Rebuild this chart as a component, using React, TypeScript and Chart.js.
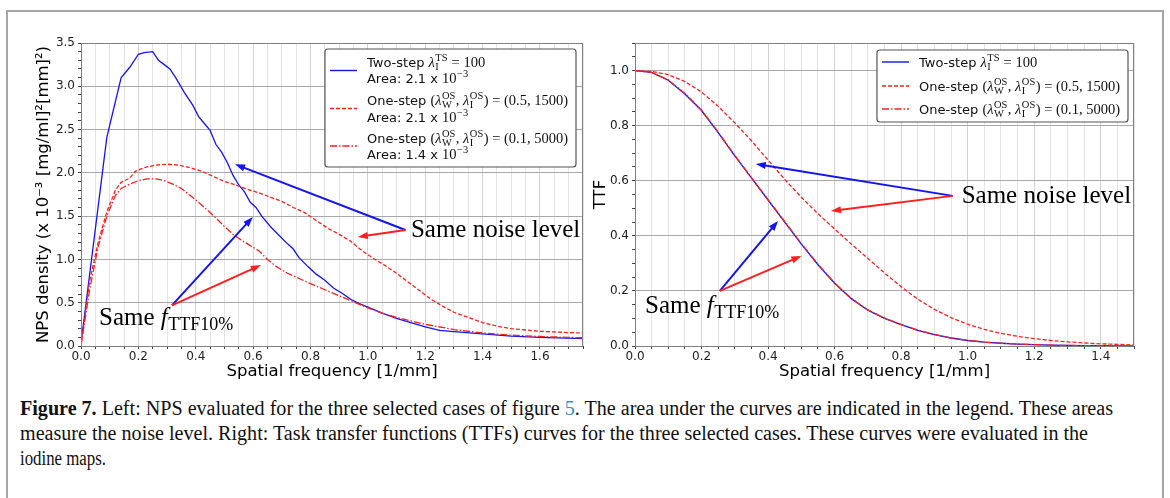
import React, { useEffect, useLayoutEffect, useRef } from 'react';
import { Chart, registerables } from 'chart.js';

Chart.register(...registerables);

// ---------------- DATA ----------------
// Left panel: NPS density (x 1e-3 [mg/ml]^2 [mm]^2) vs spatial frequency [1/mm]
const NPS_TWO_STEP_F = [0, 0.09, 0.14, 0.17, 0.2, 0.22, 0.25, 0.27, 0.29, 0.31, 0.33, 0.36, 0.39, 0.41, 0.43, 0.45, 0.47, 0.49, 0.51, 0.53, 0.55, 0.57, 0.59, 0.61, 0.63, 0.66, 0.69, 0.72, 0.74, 0.76, 0.79, 0.82, 0.85, 0.88, 0.91, 0.94, 0.97, 1.0, 1.05, 1.1, 1.15, 1.2, 1.25, 1.3, 1.4, 1.5, 1.6, 1.75];
const NPS_TWO_STEP = [0.03, 2.41, 3.1, 3.22, 3.37, 3.39, 3.4, 3.3, 3.25, 3.2, 3.1, 2.93, 2.78, 2.65, 2.57, 2.49, 2.33, 2.24, 2.12, 1.97, 1.86, 1.78, 1.66, 1.6, 1.5, 1.38, 1.28, 1.18, 1.12, 1.02, 0.92, 0.83, 0.76, 0.67, 0.61, 0.54, 0.49, 0.45, 0.38, 0.32, 0.27, 0.22, 0.18, 0.165, 0.14, 0.115, 0.1, 0.085];

const NPS_ONE_STEP_A_F = [0, 0.03, 0.06, 0.09, 0.12, 0.14, 0.17, 0.19, 0.22, 0.26, 0.3, 0.34, 0.38, 0.42, 0.46, 0.5, 0.54, 0.58, 0.62, 0.66, 0.7, 0.74, 0.78, 0.82, 0.86, 0.9, 0.94, 0.98, 1.02, 1.06, 1.1, 1.14, 1.18, 1.22, 1.26, 1.3, 1.35, 1.4, 1.45, 1.5, 1.55, 1.6, 1.7, 1.75];
const NPS_ONE_STEP_A = [0, 0.75, 1.2, 1.55, 1.8, 1.89, 1.94, 2.02, 2.06, 2.09, 2.1, 2.09, 2.06, 2.02, 1.96, 1.9, 1.86, 1.81, 1.77, 1.72, 1.67, 1.6, 1.54, 1.45, 1.36, 1.29, 1.21, 1.1, 1.01, 0.93, 0.84, 0.74, 0.64, 0.54, 0.46, 0.39, 0.33, 0.27, 0.23, 0.2, 0.185, 0.17, 0.155, 0.15];

const NPS_ONE_STEP_B_F = [0, 0.03, 0.06, 0.09, 0.12, 0.14, 0.17, 0.2, 0.23, 0.26, 0.29, 0.32, 0.35, 0.38, 0.41, 0.44, 0.47, 0.5, 0.53, 0.56, 0.59, 0.62, 0.65, 0.68, 0.72, 0.76, 0.8, 0.85, 0.9, 0.95, 1.0, 1.05, 1.1, 1.15, 1.2, 1.3, 1.4, 1.5, 1.6, 1.75];
const NPS_ONE_STEP_B = [0, 0.65, 1.15, 1.5, 1.74, 1.82, 1.87, 1.91, 1.93, 1.93, 1.91, 1.87, 1.82, 1.74, 1.66, 1.57, 1.48, 1.38, 1.29, 1.22, 1.16, 1.1, 1.0, 0.92, 0.84, 0.78, 0.72, 0.65, 0.58, 0.51, 0.44, 0.38, 0.33, 0.29, 0.25, 0.19, 0.15, 0.125, 0.11, 0.095];

// Right panel: TTF vs spatial frequency [1/mm]
const TTF_F = [0, 0.05, 0.1, 0.15, 0.2, 0.25, 0.3, 0.35, 0.4, 0.45, 0.5, 0.55, 0.6, 0.65, 0.7, 0.75, 0.8, 0.85, 0.9, 0.95, 1.0, 1.05, 1.1, 1.15, 1.2, 1.25, 1.3, 1.35, 1.4, 1.45, 1.5];
const TTF_TWO_STEP = [1.0, 0.993, 0.965, 0.915, 0.855, 0.775, 0.69, 0.61, 0.53, 0.45, 0.37, 0.295, 0.228, 0.172, 0.13, 0.1, 0.078, 0.057, 0.041, 0.029, 0.02, 0.014, 0.01, 0.007, 0.005, 0.003, 0.002, 0.001, 0.001, 0, 0];
const TTF_ONE_STEP_A = [1.0, 0.997, 0.985, 0.96, 0.922, 0.87, 0.81, 0.745, 0.675, 0.605, 0.54, 0.48, 0.425, 0.37, 0.318, 0.265, 0.215, 0.17, 0.133, 0.103, 0.079, 0.06, 0.046, 0.035, 0.027, 0.02, 0.015, 0.011, 0.008, 0.006, 0.004];
const TTF_ONE_STEP_B = [1.0, 0.993, 0.966, 0.917, 0.856, 0.777, 0.692, 0.611, 0.531, 0.452, 0.372, 0.297, 0.229, 0.173, 0.131, 0.101, 0.078, 0.058, 0.042, 0.029, 0.021, 0.014, 0.01, 0.007, 0.005, 0.003, 0.002, 0.001, 0.001, 0, 0];

// Tick labels
const NPS_X_TICKS = [0, 0.2, 0.4, 0.6, 0.8, 1.0, 1.2, 1.4, 1.6];
const NPS_Y_TICKS = [0, 0.5, 1.0, 1.5, 2.0, 2.5, 3.0, 3.5];
const TTF_X_TICKS = [0, 0.2, 0.4, 0.6, 0.8, 1.0, 1.2, 1.4];
const TTF_Y_TICKS = [0, 0.2, 0.4, 0.6, 0.8, 1.0];

// Texts
type Seg = { t?: string; f?: 'sans' | 'rm' | 'it'; sup?: string; sub?: string };
const LBL_TWO_STEP: Seg[] = [{ t: 'Two-step ', f: 'sans' }, { t: 'λ', f: 'it' }, { sup: 'TS', sub: 'I' }, { t: ' = 100', f: 'rm' }];
const LBL_ONE_STEP_A: Seg[] = [{ t: 'One-step ', f: 'sans' }, { t: '(', f: 'rm' }, { t: 'λ', f: 'it' }, { sup: 'OS', sub: 'W' }, { t: ', ', f: 'rm' }, { t: 'λ', f: 'it' }, { sup: 'OS', sub: 'I' }, { t: ') = (0.5, 1500)', f: 'rm' }];
const LBL_ONE_STEP_B: Seg[] = [{ t: 'One-step ', f: 'sans' }, { t: '(', f: 'rm' }, { t: 'λ', f: 'it' }, { sup: 'OS', sub: 'W' }, { t: ', ', f: 'rm' }, { t: 'λ', f: 'it' }, { sup: 'OS', sub: 'I' }, { t: ') = (0.1, 5000)', f: 'rm' }];
const AREA_A: Seg[] = [{ t: 'Area: 2.1 x ', f: 'sans' }, { t: '10', f: 'rm' }, { sup: '−3' }];
const AREA_B: Seg[] = [{ t: 'Area: 2.1 x ', f: 'sans' }, { t: '10', f: 'rm' }, { sup: '−3' }];
const AREA_C: Seg[] = [{ t: 'Area: 1.4 x ', f: 'sans' }, { t: '10', f: 'rm' }, { sup: '−3' }];
const SAME_NOISE: Seg[] = [{ t: 'Same noise level', f: 'rm' }];
const SAME_F: Seg[] = [{ t: 'Same ', f: 'rm' }, { t: 'f', f: 'it' }, { sub: 'TTF10%' }];

const CAPTION_LINES = [
  [{ t: 'Figure 7.', b: true }, { t: ' Left: NPS evaluated for the three selected cases of figure ' }, { t: '5', link: true }, { t: '. The area under the curves are indicated in the legend. These areas' }],
  [{ t: 'measure the noise level. Right: Task transfer functions (TTFs) curves for the three selected cases. These curves were evaluated in the' }],
  [{ t: 'iodine maps.' }],
];
const CAPTION_WIDTHS = [1093, 1068, 86];

// ---------------- STYLE ----------------
const BLUE = '#1414f2';
const RED = '#ff1f1f';
const DASH = [4, 2];
const DASHDOT = [7, 2, 1.5, 2];

function zip(xs: number[], ys: number[]) {
  return xs.map((x, i) => ({ x, y: ys[i] }));
}
function near(v: number, list: number[]) {
  return list.some((t) => Math.abs(t - v) < 1e-6);
}

function segFont(f: string | undefined, size: number) {
  if (f === 'sans') return `${size}px "DejaVu Sans"`;
  if (f === 'it') return `italic ${size}px "Liberation Serif"`;
  return `${size}px "Liberation Serif"`;
}

function rich(ctx: CanvasRenderingContext2D, segs: Seg[], x: number, y: number, size: number, mathSize: number, draw: boolean) {
  let cx = x;
  for (const s of segs) {
    if (s.t !== undefined) {
      const sz = s.f === 'sans' ? size : mathSize;
      ctx.font = segFont(s.f, sz);
      if (draw) ctx.fillText(s.t, cx, y);
      cx += ctx.measureText(s.t).width;
    } else {
      const sz = mathSize * 0.72;
      ctx.font = segFont('rm', sz);
      let w = 0;
      if (s.sup) {
        if (draw) ctx.fillText(s.sup, cx + 0.5, y - mathSize * 0.42);
        w = Math.max(w, ctx.measureText(s.sup).width);
      }
      if (s.sub) {
        if (draw) ctx.fillText(s.sub, cx + 0.5, y + mathSize * 0.2);
        w = Math.max(w, ctx.measureText(s.sub).width);
      }
      cx += w + 1;
    }
  }
  return cx - x;
}

function arrow(ctx: CanvasRenderingContext2D, x1: number, y1: number, x2: number, y2: number, color: string) {
  const a = Math.atan2(y2 - y1, x2 - x1);
  const hl = 10;
  const hw = 3.6;
  const c = Math.cos(a);
  const s = Math.sin(a);
  ctx.save();
  ctx.strokeStyle = color;
  ctx.fillStyle = color;
  ctx.lineWidth = 2;
  ctx.setLineDash([]);
  ctx.beginPath();
  ctx.moveTo(x1, y1);
  ctx.lineTo(x2 - hl * 0.8 * c, y2 - hl * 0.8 * s);
  ctx.stroke();
  ctx.beginPath();
  ctx.moveTo(x2, y2);
  ctx.lineTo(x2 - hl * c + hw * s, y2 - hl * s - hw * c);
  ctx.lineTo(x2 - hl * c - hw * s, y2 - hl * s + hw * c);
  ctx.closePath();
  ctx.fill();
  ctx.restore();
}

type Note = { label: Seg[]; at: number[]; from: number[]; to: { p: number[]; c: string }[] };
type LegendEntry = { color: string; dash: number[]; lines: Seg[][]; centers: number[]; handle: number };
type LegendSpec = { right: number; top: number; height: number; entries: LegendEntry[] };

const NPS_NOTES: Note[] = [
  { label: SAME_NOISE, at: [1.15, 1.26], from: [1.131, 1.34], to: [{ p: [0.537, 2.1], c: BLUE }, { p: [0.965, 1.26], c: RED }] },
  { label: SAME_F, at: [0.063, 0.24], from: [0.317, 0.47], to: [{ p: [0.599, 1.49], c: BLUE }, { p: [0.627, 0.935], c: RED }] },
];
const TTF_NOTES: Note[] = [
  { label: SAME_NOISE, at: [0.982, 0.52], from: [0.955, 0.545], to: [{ p: [0.363, 0.661], c: BLUE }, { p: [0.589, 0.49], c: RED }] },
  { label: SAME_F, at: [0.03, 0.12], from: [0.255, 0.2], to: [{ p: [0.43, 0.454], c: BLUE }, { p: [0.5, 0.327], c: RED }] },
];

const NPS_LEGEND: LegendSpec = {
  right: 7, top: 6, height: 118,
  entries: [
    { color: BLUE, dash: [], lines: [LBL_TWO_STEP, AREA_A], centers: [13, 29.5], handle: 21.5 },
    { color: RED, dash: DASH, lines: [LBL_ONE_STEP_A, AREA_B], centers: [51, 68], handle: 59.5 },
    { color: RED, dash: DASHDOT, lines: [LBL_ONE_STEP_B, AREA_C], centers: [89, 105.5], handle: 97 },
  ],
};
const TTF_LEGEND: LegendSpec = {
  right: 6, top: 7, height: 72,
  entries: [
    { color: BLUE, dash: [], lines: [LBL_TWO_STEP], centers: [12], handle: 12 },
    { color: RED, dash: DASH, lines: [LBL_ONE_STEP_A], centers: [36], handle: 36 },
    { color: RED, dash: DASHDOT, lines: [LBL_ONE_STEP_B], centers: [59], handle: 59 },
  ],
};

function overlayPlugin(notes: Note[], legend: LegendSpec) {
  return {
    id: 'overlay',
    afterDatasetsDraw(chart: any) {
      const { ctx, chartArea: a } = chart;
      ctx.save();
      ctx.strokeStyle = '#808080';
      ctx.lineWidth = 1;
      ctx.setLineDash([]);
      ctx.strokeRect(a.left + 0.5, a.top + 0.5, a.right - a.left - 1, a.bottom - a.top);
      ctx.restore();
    },
    afterDraw(chart: any) {
      const { ctx, chartArea: a } = chart;
      const xs = chart.scales.x;
      const ys = chart.scales.y;
      ctx.save();
      ctx.textBaseline = 'alphabetic';
      ctx.textAlign = 'left';
      for (const n of notes) {
        const fx = xs.getPixelForValue(n.from[0]);
        const fy = ys.getPixelForValue(n.from[1]);
        for (const t of n.to) {
          arrow(ctx, fx, fy, xs.getPixelForValue(t.p[0]), ys.getPixelForValue(t.p[1]), t.c);
        }
        ctx.fillStyle = '#000';
        rich(ctx, n.label, xs.getPixelForValue(n.at[0]), ys.getPixelForValue(n.at[1]), 25, 25, true);
      }
      // legend
      const size = 13;
      const mathSize = 14.5;
      let maxW = 0;
      for (const e of legend.entries) for (const l of e.lines) maxW = Math.max(maxW, rich(ctx, l, 0, 0, size, mathSize, false));
      const w = 5 + 27 + 10 + maxW + 8;
      const bx = a.right - legend.right - w;
      const by = a.top + legend.top;
      ctx.beginPath();
      const r = 3;
      ctx.moveTo(bx + r, by);
      ctx.arcTo(bx + w, by, bx + w, by + legend.height, r);
      ctx.arcTo(bx + w, by + legend.height, bx, by + legend.height, r);
      ctx.arcTo(bx, by + legend.height, bx, by, r);
      ctx.arcTo(bx, by, bx + w, by, r);
      ctx.closePath();
      ctx.fillStyle = '#ffffff';
      ctx.fill();
      ctx.strokeStyle = '#555555';
      ctx.lineWidth = 1.2;
      ctx.stroke();
      for (const e of legend.entries) {
        ctx.save();
        ctx.strokeStyle = e.color;
        ctx.lineWidth = 1.4;
        ctx.setLineDash(e.dash);
        ctx.beginPath();
        ctx.moveTo(bx + 5, by + e.handle);
        ctx.lineTo(bx + 32, by + e.handle);
        ctx.stroke();
        ctx.restore();
        ctx.fillStyle = '#111';
        e.lines.forEach((l, i) => {
          rich(ctx, l, bx + 42, by + e.centers[i] + 4.7, size, mathSize, true);
        });
      }
      ctx.restore();
    },
  };
}

const TICK_FONT = { family: 'DejaVu Sans', size: 12 };
const TITLE_FONT = { family: 'DejaVu Sans', size: 16.5 };

function lineDs(label: string, data: { x: number; y: number }[], color: string, dash: number[], order: number) {
  return {
    label,
    data,
    borderColor: color,
    backgroundColor: color,
    borderWidth: 1.3,
    borderDash: dash,
    pointRadius: 0,
    tension: 0,
    fill: false,
    order,
  };
}

function makeScales(opts: {
  xMax: number; yMax: number; yStep: number; xLabels: number[]; yLabels: number[];
  yTitle: string; yTitlePad: number; yWidth: number; xHeight: number;
}) {
  return {
    x: {
      type: 'linear',
      min: 0,
      max: opts.xMax,
      afterFit: (s: any) => { s.height = opts.xHeight; },
      border: { display: false },
      grid: {
        color: (c: any) => (c.tick && near(c.tick.value, opts.xLabels) ? '#d2d2d2' : '#e4e4e4'),
        lineWidth: 1,
        tickLength: 3,
        tickColor: '#444',
      },
      ticks: {
        stepSize: 0.05,
        autoSkip: false,
        maxRotation: 0,
        padding: 1,
        color: '#222',
        font: TICK_FONT,
        callback: (v: number) => (near(v, opts.xLabels) ? v.toFixed(1) : ''),
      },
      title: {
        display: true,
        text: 'Spatial frequency [1/mm]',
        color: '#000',
        font: TITLE_FONT,
        padding: { top: 0, bottom: 8 },
      },
    },
    y: {
      type: 'linear',
      min: 0,
      max: opts.yMax,
      afterFit: (s: any) => { s.width = opts.yWidth; },
      border: { display: false },
      grid: {
        color: (c: any) => (c.tick && near(c.tick.value, opts.yLabels) ? '#a8a8a8' : 'rgba(0,0,0,0)'),
        lineWidth: 1,
        tickLength: 3,
        tickColor: '#444',
      },
      ticks: {
        stepSize: opts.yStep,
        autoSkip: false,
        padding: 3,
        color: '#222',
        font: TICK_FONT,
        callback: (v: number) => (near(v, opts.yLabels) ? v.toFixed(1) : ''),
      },
      title: {
        display: true,
        text: opts.yTitle,
        color: '#000',
        font: TITLE_FONT,
        padding: { top: opts.yTitlePad, bottom: 0 },
      },
    },
  };
}

function NpsChart() {
  const ref = useRef<HTMLCanvasElement>(null);
  useEffect(() => {
    if (!ref.current) return;
    const chart = new Chart(ref.current, {
      type: 'line',
      data: {
        datasets: [
          lineDs('Two-step', zip(NPS_TWO_STEP_F, NPS_TWO_STEP), BLUE, [], 3),
          lineDs('One-step (0.5, 1500)', zip(NPS_ONE_STEP_A_F, NPS_ONE_STEP_A), RED, DASH, 2),
          lineDs('One-step (0.1, 5000)', zip(NPS_ONE_STEP_B_F, NPS_ONE_STEP_B), RED, DASHDOT, 1),
        ],
      },
      options: {
        animation: false,
        responsive: false,
        devicePixelRatio: 1,
        layout: { padding: { top: 43, right: 7, left: 0, bottom: 0 } },
        plugins: { legend: { display: false }, tooltip: { enabled: false } },
        scales: makeScales({
          xMax: 1.75, yMax: 3.5, yStep: 0.1, xLabels: NPS_X_TICKS, yLabels: NPS_Y_TICKS,
          yTitle: 'NPS density (x 10⁻³ [mg/ml]²[mm]²)', yTitlePad: 34, yWidth: 81, xHeight: 44,
        }),
      } as any,
      plugins: [overlayPlugin(NPS_NOTES, NPS_LEGEND) as any],
    } as any);
    return () => chart.destroy();
  }, []);
  return <canvas ref={ref} width={590} height={390} style={{ position: 'absolute', left: 0, top: 0, width: 590, height: 390 }} />;
}

function TtfChart() {
  const ref = useRef<HTMLCanvasElement>(null);
  useEffect(() => {
    if (!ref.current) return;
    const chart = new Chart(ref.current, {
      type: 'line',
      data: {
        datasets: [
          lineDs('Two-step', zip(TTF_F, TTF_TWO_STEP), BLUE, [], 3),
          lineDs('One-step (0.5, 1500)', zip(TTF_F, TTF_ONE_STEP_A), RED, DASH, 2),
          lineDs('One-step (0.1, 5000)', zip(TTF_F, TTF_ONE_STEP_B), RED, DASHDOT, 1),
        ],
      },
      options: {
        animation: false,
        responsive: false,
        devicePixelRatio: 1,
        layout: { padding: { top: 43, right: 36, left: 0, bottom: 0 } },
        plugins: { legend: { display: false }, tooltip: { enabled: false } },
        scales: makeScales({
          xMax: 1.5, yMax: 1.1, yStep: 0.05, xLabels: TTF_X_TICKS, yLabels: TTF_Y_TICKS,
          yTitle: 'TTF', yTitlePad: 1, yWidth: 45, xHeight: 44,
        }),
      } as any,
      plugins: [overlayPlugin(TTF_NOTES, TTF_LEGEND) as any],
    } as any);
    return () => chart.destroy();
  }, []);
  return <canvas ref={ref} width={580} height={390} style={{ position: 'absolute', left: 590, top: 0, width: 580, height: 390 }} />;
}

function Caption() {
  const refs = useRef<(HTMLSpanElement | null)[]>([]);
  useLayoutEffect(() => {
    refs.current.forEach((el, i) => {
      if (!el) return;
      el.style.transform = 'none';
      const w = el.getBoundingClientRect().width;
      if (w > 0) el.style.transform = `scaleX(${CAPTION_WIDTHS[i] / w})`;
    });
  }, []);
  return (
    <div style={{ position: 'absolute', left: 20, top: 396, fontFamily: '"Liberation Serif", serif', fontSize: 20, lineHeight: '25px', color: '#111' }}>
      {CAPTION_LINES.map((line, i) => (
        <div key={i} style={{ height: 25 }}>
          <span
            ref={(el) => { refs.current[i] = el; }}
            style={{ display: 'inline-block', whiteSpace: 'nowrap', transformOrigin: 'left center' }}
          >
            {line.map((p: any, j) => (
              <span key={j} style={{ fontWeight: p.b ? 'bold' : 'normal', color: p.link ? '#2f8fd0' : undefined }}>{p.t}</span>
            ))}
          </span>
        </div>
      ))}
    </div>
  );
}

export default function App() {
  return (
    <div style={{ position: 'absolute', left: 0, top: 0, width: 1170, height: 498, background: '#fff', overflow: 'hidden' }}>
      <div style={{ position: 'absolute', left: 6, top: 10, width: 1158, height: 600, border: '2px solid #a6a6a6', boxSizing: 'border-box' }} />
      <NpsChart />
      <TtfChart />
      <Caption />
    </div>
  );
}
